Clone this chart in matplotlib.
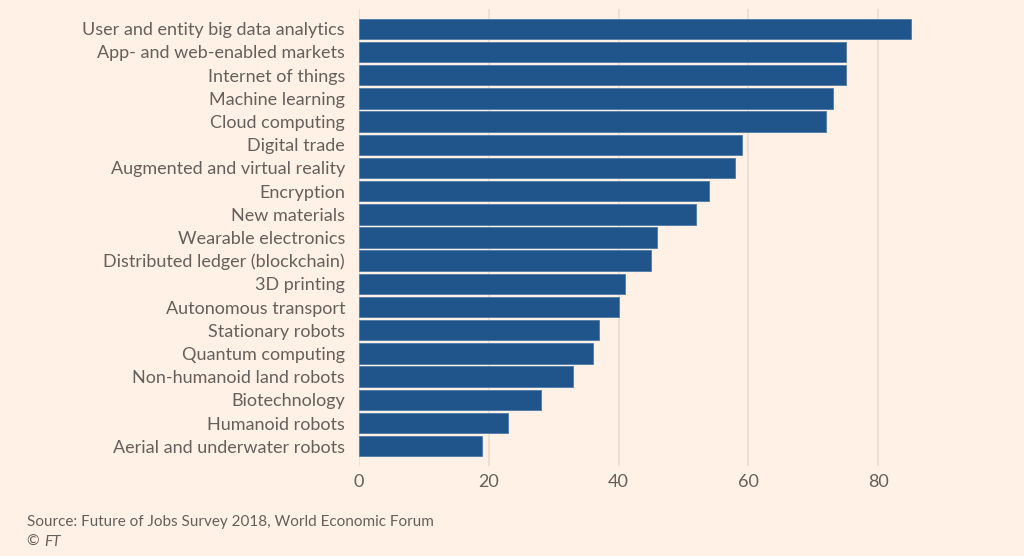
import matplotlib
matplotlib.use("Agg")
import matplotlib.pyplot as plt

categories = [
    "User and entity big data analytics",
    "App- and web-enabled markets",
    "Internet of things",
    "Machine learning",
    "Cloud computing",
    "Digital trade",
    "Augmented and virtual reality",
    "Encryption",
    "New materials",
    "Wearable electronics",
    "Distributed ledger (blockchain)",
    "3D printing",
    "Autonomous transport",
    "Stationary robots",
    "Quantum computing",
    "Non-humanoid land robots",
    "Biotechnology",
    "Humanoid robots",
    "Aerial and underwater robots",
]
values = [85, 75, 75, 73, 72, 59, 58, 54, 52, 46, 45, 41, 40, 37, 36, 33, 28, 23, 19]
xticks = [0, 20, 40, 60, 80]

bg = "#FFF1E5"
bar_color = "#1f558b"
text_color = "#66605c"
grid_color = "#e9ddd2"

plt.rcParams['font.family'] = ['Lato', 'DejaVu Sans']

fig = plt.figure(figsize=(10.24, 5.56), dpi=100, facecolor=bg)
ax = fig.add_axes([359/1024, 1 - 466/556, (943-359)/1024, (466-9)/556])
ax.set_facecolor(bg)

y = list(range(len(categories)))
ax.barh(y, values, height=0.88, color=bar_color, edgecolor="#4f7aa6", linewidth=0.6, zorder=3)
ax.set_ylim(len(categories) - 0.5 + 0.35, -0.5 - 0.35)
ax.set_xlim(0, 90)
ax.set_xticks(xticks)
ax.set_xticklabels([str(t) for t in xticks])
ax.set_yticks(y)
ax.set_yticklabels(categories)
ax.tick_params(axis='y', length=0, pad=10, labelsize=13, labelcolor=text_color)
ax.tick_params(axis='x', length=0, pad=6, labelsize=13, labelcolor=text_color)
ax.grid(axis='x', color=grid_color, linewidth=1.2, zorder=0)
for s in ax.spines.values():
    s.set_visible(False)

fig.text(27/1024, 1 - 522/556, "Source: Future of Jobs Survey 2018, World Economic Forum",
         fontsize=11, color=text_color, va='center', ha='left')
fig.text(27/1024, 1 - 542/556, "© ", fontsize=11, color=text_color, va='center', ha='left')
fig.text(44/1024, 1 - 542/556, "FT", fontsize=11, color=text_color, va='center', ha='left', style='italic')

fig.savefig("out.png", dpi=100, facecolor=bg)
